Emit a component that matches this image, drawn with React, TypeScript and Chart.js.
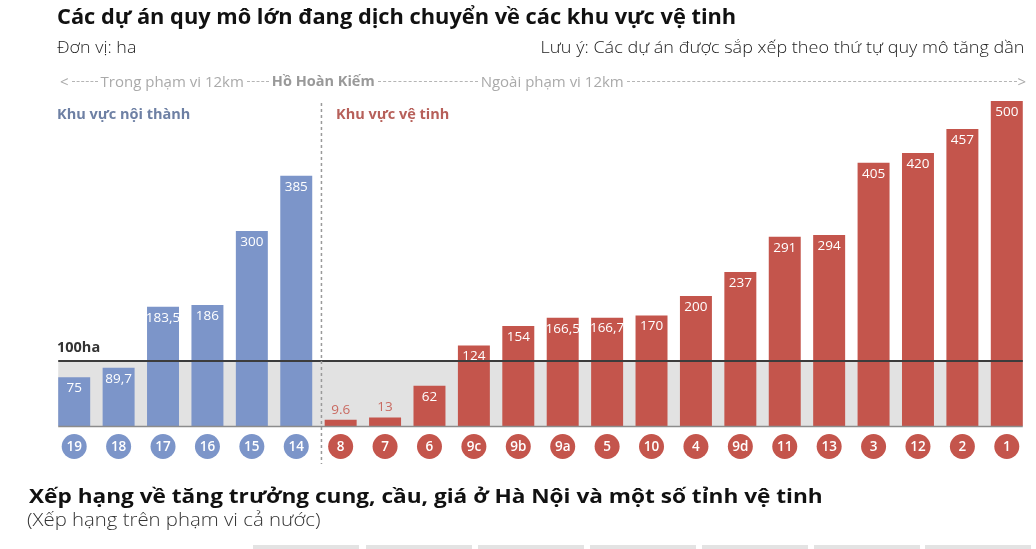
import React, { useEffect, useRef } from "react";
import { Chart, registerables } from "chart.js";

Chart.register(...registerables);

const projectIds = ["19", "18", "17", "16", "15", "14", "8", "7", "6", "9c", "9b", "9a", "5", "10", "4", "9d", "11", "13", "3", "12", "2", "1"];
const areaValues = [75, 89.7, 183.5, 186, 300, 385, 9.6, 13, 62, 124, 154, 166.5, 166.7, 170, 200, 237, 291, 294, 405, 420, 457, 500];
const valueLabels = ["75", "89,7", "183,5", "186", "300", "385", "9.6", "13", "62", "124", "154", "166,5", "166,7", "170", "200", "237", "291", "294", "405", "420", "457", "500"];
const innerCityCount = 6;
const thresholdValue = 100;
const yMax = 500;

const BLUE = "#7c95c9";
const RED = "#c4554c";
const FONT = "'Open Sans', 'DejaVu Sans', sans-serif";

const overlayPlugin = {
  id: "overlay",
  beforeDatasetsDraw(chart: any) {
    const { ctx, scales } = chart;
    const meta = chart.getDatasetMeta(0);
    const first = meta.data[0];
    const last = meta.data[meta.data.length - 1];
    const x0 = first.x - first.width / 2;
    const x1 = last.x + last.width / 2;
    const yT = scales.y.getPixelForValue(thresholdValue);
    const y0 = scales.y.getPixelForValue(0);
    ctx.save();
    ctx.fillStyle = "#e2e2e2";
    ctx.fillRect(x0, yT, x1 - x0, y0 - yT);
    ctx.restore();
  },
  afterDatasetsDraw(chart: any) {
    const { ctx, scales } = chart;
    const meta = chart.getDatasetMeta(0);
    const first = meta.data[0];
    const last = meta.data[meta.data.length - 1];
    const x0 = first.x - first.width / 2;
    const x1 = last.x + last.width / 2;
    const yT = scales.y.getPixelForValue(thresholdValue);
    const y0 = scales.y.getPixelForValue(0);
    ctx.save();
    // baseline
    ctx.strokeStyle = "#8c8c8c";
    ctx.lineWidth = 1.5;
    ctx.beginPath();
    ctx.moveTo(x0, y0 + 0.5);
    ctx.lineTo(x1, y0 + 0.5);
    ctx.stroke();
    // threshold line
    ctx.strokeStyle = "#3c3c3c";
    ctx.lineWidth = 2;
    ctx.beginPath();
    ctx.moveTo(x0, yT);
    ctx.lineTo(x1, yT);
    ctx.stroke();
    // dashed divider
    const a = meta.data[innerCityCount - 1];
    const b = meta.data[innerCityCount];
    const xd = (a.x + b.x) / 2 + 3;
    ctx.strokeStyle = "#9a9a9a";
    ctx.lineWidth = 1.5;
    ctx.setLineDash([3, 3]);
    ctx.beginPath();
    ctx.moveTo(xd, 103);
    ctx.lineTo(xd, 464);
    ctx.stroke();
    ctx.setLineDash([]);
    // value labels
    ctx.textAlign = "center";
    ctx.textBaseline = "middle";
    ctx.font = `13.5px ${FONT}`;
    meta.data.forEach((bar: any, i: number) => {
      const h = y0 - bar.y;
      if (h < 30) {
        ctx.fillStyle = "#c96a61";
        ctx.fillText(valueLabels[i], bar.x, bar.y - 10);
      } else {
        ctx.fillStyle = "#ffffff";
        ctx.fillText(valueLabels[i], bar.x, bar.y + 11);
      }
    });
    // id circles
    const cy = 446.5;
    meta.data.forEach((bar: any, i: number) => {
      ctx.fillStyle = i < innerCityCount ? BLUE : RED;
      ctx.beginPath();
      ctx.arc(bar.x, cy, 12.5, 0, Math.PI * 2);
      ctx.fill();
      ctx.fillStyle = "#ffffff";
      ctx.font = `600 13.5px ${FONT}`;
      ctx.fillText(projectIds[i], bar.x, cy + 0.5);
    });
    ctx.restore();
  },
};

const abs = (style: React.CSSProperties): React.CSSProperties => ({ position: "absolute", fontFamily: FONT, whiteSpace: "nowrap", margin: 0, lineHeight: 1, ...style });

const bottomBoxes = [253, 366, 478, 590, 702, 814, 925];

export default function App() {
  const ref = useRef<HTMLCanvasElement>(null);
  useEffect(() => {
    if (!ref.current) return;
    const chart = new Chart(ref.current, {
      type: "bar",
      data: {
        labels: projectIds,
        datasets: [
          {
            data: areaValues,
            backgroundColor: areaValues.map((_, i) => (i < innerCityCount ? BLUE : RED)),
            barPercentage: 0.72,
            categoryPercentage: 1,
          },
        ],
      },
      options: {
        animation: false,
        responsive: false,
        devicePixelRatio: 1,
        layout: { padding: { left: 52, right: 7, top: 101, bottom: 123 } },
        scales: {
          x: { display: false },
          y: { display: false, min: 0, max: yMax },
        },
        plugins: { legend: { display: false }, tooltip: { enabled: false }, title: { display: false } },
      },
      plugins: [overlayPlugin],
    });
    return () => chart.destroy();
  }, []);

  const dash = (w: number) => (
    <span style={{ display: "inline-block", width: w, borderTop: "1px dashed #b5b5b5", verticalAlign: "middle", margin: "0 3px" }} />
  );

  return (
    <div style={{ position: "fixed", left: 0, top: 0, width: 1036, height: 549, background: "#fff", overflow: "hidden" }}>
      <canvas ref={ref} width={1036} height={549} style={{ position: "absolute", left: 0, top: 0, width: 1036, height: 549 }} />
      <div style={abs({ left: 57, top: 5, fontSize: 21.8, fontWeight: 700, color: "#111" })}>
        Các dự án quy mô lớn đang dịch chuyển về các khu vực vệ tinh
      </div>
      <div style={abs({ left: 57, top: 38, fontSize: 17, fontWeight: 300, color: "#222", transform: "scaleX(1.05)", transformOrigin: "left" })}>Đơn vị: ha</div>
      <div style={abs({ right: 12, top: 38, fontSize: 17, fontWeight: 300, color: "#222", transform: "scaleX(1.06)", transformOrigin: "right" })}>
        Lưu ý: Các dự án được sắp xếp theo thứ tự quy mô tăng dần
      </div>
      <div style={abs({ left: 60, top: 74, width: 966, fontSize: 15, color: "#aaa", display: "flex", alignItems: "center" })}>
        <span>&lt;</span>
        {dash(26)}
        <span>Trong phạm vi 12km</span>
        {dash(22)}
        <span style={{ fontWeight: 700, color: "#999", fontSize: 14.5 }}>Hồ Hoàn Kiếm</span>
        {dash(100)}
        <span>Ngoài phạm vi 12km</span>
        <span style={{ flex: 1, borderTop: "1px dashed #b5b5b5", margin: "0 0 0 3px" }} />
        <span>&gt;</span>
      </div>
      <div style={abs({ left: 57, top: 107, fontSize: 14.5, fontWeight: 700, color: "#6e80a4" })}>Khu vực nội thành</div>
      <div style={abs({ left: 336, top: 107, fontSize: 14.5, fontWeight: 700, color: "#b7605a" })}>Khu vực vệ tinh</div>
      <div style={abs({ left: 57, top: 340, fontSize: 14.5, fontWeight: 700, color: "#333" })}>100ha</div>
      <div style={abs({ left: 29, top: 486, fontSize: 19.5, fontWeight: 700, color: "#111", transform: "scaleX(1.16)", transformOrigin: "left" })}>
        Xếp hạng về tăng trưởng cung, cầu, giá ở Hà Nội và một số tỉnh vệ tinh
      </div>
      <div style={abs({ left: 27, top: 510, fontSize: 18, fontWeight: 300, color: "#333", transform: "scaleX(1.13)", transformOrigin: "left" })}>(Xếp hạng trên phạm vi cả nước)</div>
      {bottomBoxes.map((x, i) => (
        <div key={i} style={{ position: "absolute", left: x, top: 545, width: 106, height: 6, background: "#e3e3e3" }} />
      ))}
    </div>
  );
}
